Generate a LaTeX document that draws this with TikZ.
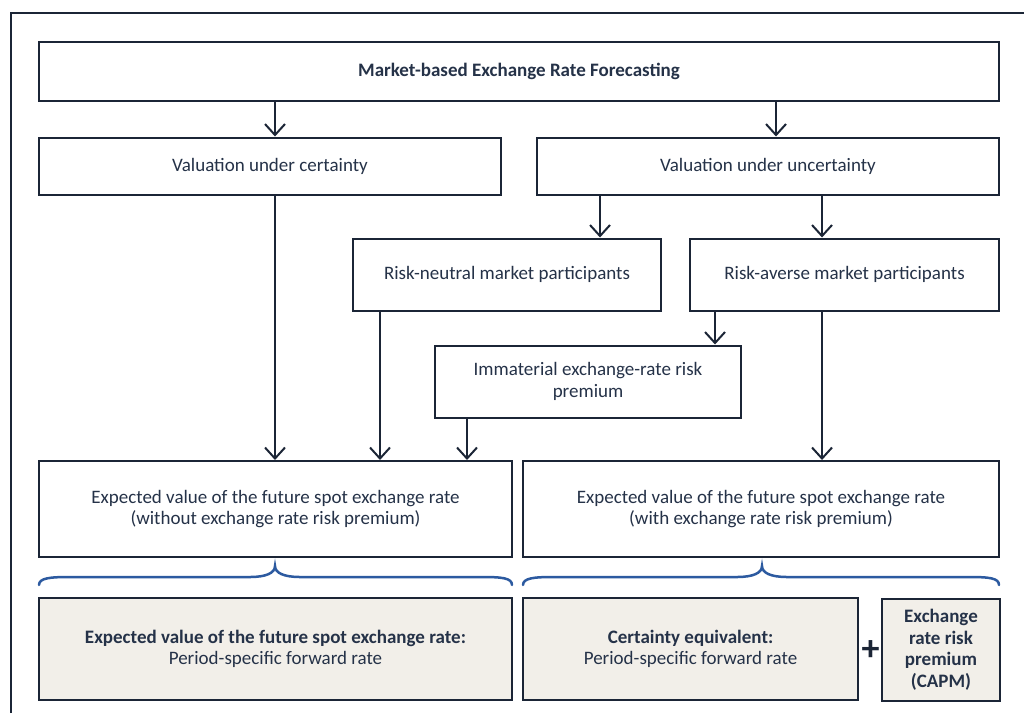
\documentclass[tikz,border=0pt]{standalone}
\usepackage{fontspec}
\setmainfont{Carlito}
\usetikzlibrary{arrows.meta}
\definecolor{ink}{HTML}{1B2536}
\definecolor{txt}{HTML}{253248}
\definecolor{beige}{HTML}{F2EFE9}
\definecolor{braceblue}{HTML}{2C5AA0}
\begin{document}
\begin{tikzpicture}[x=1pt,y=-1pt,
  box/.style={draw=ink, line width=2pt, fill=white, text=txt, align=center,
    font=\fontsize{19}{21.5}\selectfont, inner sep=0pt},
  sumbox/.style={box, fill=beige},
  arr/.style={draw=ink, line width=2pt, -{Straight Barb[length=11pt,width=20pt]}},
  brc/.style={draw=braceblue, line width=2.5pt, line cap=round}]
\useasboundingbox (0,0) rectangle (1024,713);
\fill[white] (0,0) rectangle (1024,713);
\draw[ink, line width=2pt] (11,713) -- (11,12.5) -- (1024,12.5);

\node[box, minimum width=960, minimum height=59] (title) at (519,71) {\bfseries Market-based Exchange Rate Forecasting};
\node[box, minimum width=462, minimum height=57] (cert) at (270,166) {Valuation under certainty};
\node[box, minimum width=462, minimum height=57] (uncert) at (768,166) {Valuation under uncertainty};
\node[box, minimum width=308, minimum height=72] (neutral) at (507,274.5) {Risk-neutral market participants};
\node[box, minimum width=309, minimum height=72] (averse) at (844.5,274.5) {Risk-averse market participants};
\node[box, minimum width=306, minimum height=72] (immat) at (588,381.5) {Immaterial exchange-rate risk\\premium};
\node[box, minimum width=473, minimum height=96] (expL) at (275.5,509) {Expected value of the future spot exchange rate\\(without exchange rate risk premium)};
\node[box, minimum width=476, minimum height=96] (expR) at (761,509) {Expected value of the future spot exchange rate\\(with exchange rate risk premium)};
\node[sumbox, minimum width=473, minimum height=102] (botL) at (275.5,649) {\textbf{Expected value of the future spot exchange rate:}\\Period-specific forward rate};
\node[sumbox, minimum width=335, minimum height=102] (botM) at (690.5,649) {\textbf{Certainty equivalent:}\\Period-specific forward rate};
\node[sumbox, minimum width=118, minimum height=102] (botR) at (941,650) {\bfseries Exchange\\\bfseries rate risk\\\bfseries premium\\\bfseries (CAPM)};
\node[text=ink, inner sep=0pt, font=\fontsize{36}{36}\selectfont\bfseries] (plus) at (870.5,651) {+};

\draw[arr] (title.south -| 275,0) -- (cert.north -| 275,0);
\draw[arr] (title.south -| 776,0) -- (uncert.north -| 776,0);
\draw[arr] (uncert.south -| 600,0) -- (neutral.north -| 600,0);
\draw[arr] (uncert.south -| 822,0) -- (averse.north -| 822,0);
\draw[arr] (averse.south -| 715,0) -- (immat.north -| 715,0);
\draw[arr] (cert.south -| 275,0) -- (expL.north -| 275,0);
\draw[arr] (neutral.south -| 380,0) -- (expL.north -| 380,0);
\draw[arr] (immat.south -| 467,0) -- (expL.north -| 467,0);
\draw[arr] (averse.south -| 822,0) -- (expR.north -| 822,0);

\draw[brc] (39,585) .. controls (39,578) and (50,577) .. (70,577) -- (250,577)
  .. controls (266,577) and (275,573) .. (275,566)
  .. controls (275,573) and (284,577) .. (300,577) -- (482,577)
  .. controls (502,577) and (512,578) .. (512,585);
\draw[brc] (523,585) .. controls (523,578) and (534,577) .. (554,577) -- (737,577)
  .. controls (753,577) and (762,573) .. (762,566)
  .. controls (762,573) and (771,577) .. (787,577) -- (969,577)
  .. controls (989,577) and (999,578) .. (999,585);
\end{tikzpicture}
\end{document}
